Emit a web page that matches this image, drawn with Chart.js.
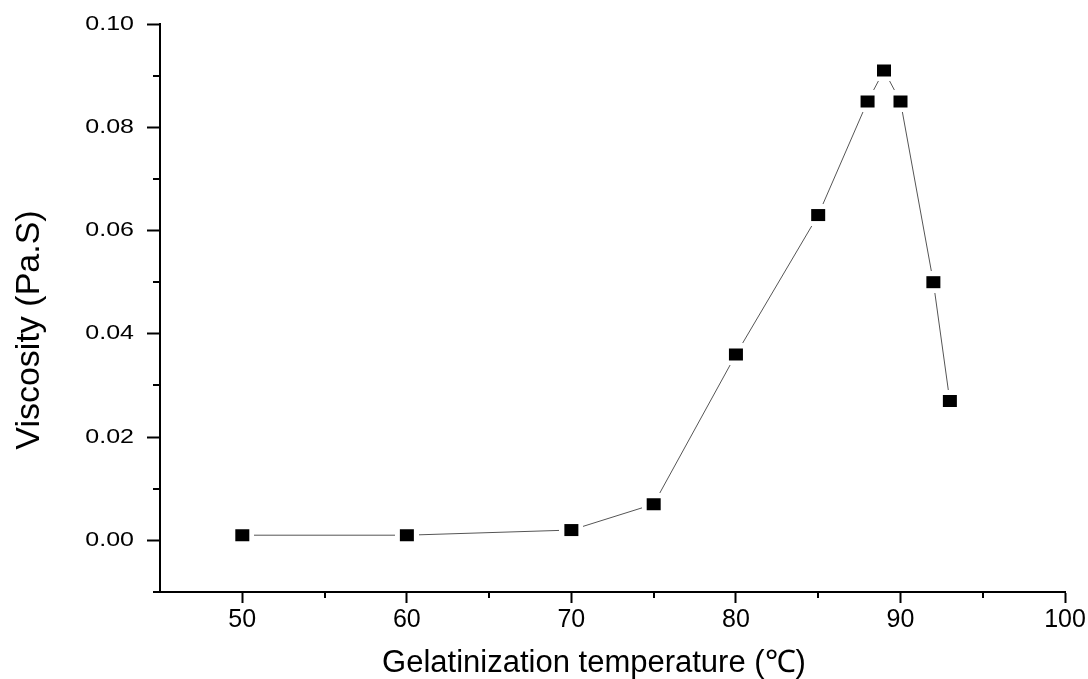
<!DOCTYPE html>
<html>
<head>
<meta charset="utf-8">
<script src="https://cdn.jsdelivr.net/npm/chart.js@4/dist/chart.umd.min.js"></script>
<style>
  html, body { margin: 0; padding: 0; background: #fff; }
  #wrap { width: 1088px; height: 679px; }
</style>
</head>
<body>
<div id="wrap"><canvas id="chart"></canvas></div>
<script>
const temperatures = [50, 60, 70, 75, 80, 85, 88, 89, 90, 92, 93];
const viscosity = [0.001, 0.001, 0.002, 0.007, 0.036, 0.063, 0.085, 0.091, 0.085, 0.050, 0.027];
const xMinorTicks = [55, 65, 75, 85, 95];
const yMinorTicks = [-0.01, 0.01, 0.03, 0.05, 0.07, 0.09];
const xTitle = 'Gelatinization temperature (\u2103)';
const yTitle = 'Viscosity (Pa.S)';

// square marker with a white halo so the line stops short of it
function makeMarker() {
    const c = document.createElement('canvas');
    c.width = 24;
    c.height = 22;
    const ctx = c.getContext('2d');
    ctx.fillStyle = '#fff';
    ctx.fillRect(0, 0, 24, 22);
    ctx.fillStyle = '#000';
    ctx.fillRect(5, 5, 14, 12);
    return c;
}

const axisExtras = {
    id: 'axisExtras',
    afterDraw(chart) {
        const ctx = chart.ctx;
        const x = chart.scales.x;
        const y = chart.scales.y;
        ctx.save();
        ctx.strokeStyle = '#000';
        ctx.lineWidth = 2;
        ctx.beginPath();
        xMinorTicks.forEach(v => {
            const px = Math.round(x.getPixelForValue(v));
            ctx.moveTo(px, x.top);
            ctx.lineTo(px, x.top + 6);
        });
        yMinorTicks.forEach(v => {
            const py = Math.round(y.getPixelForValue(v));
            ctx.moveTo(y.right, py);
            ctx.lineTo(y.right - 7, py);
        });
        ctx.stroke();

        // y tick labels: the original's are drawn wide, so stretch them sideways
        ctx.fillStyle = '#000';
        ctx.font = '20px "Liberation Sans"';
        ctx.textAlign = 'right';
        ctx.textBaseline = 'middle';
        y.ticks.forEach(t => {
            const py = y.getPixelForValue(t.value);
            ctx.save();
            ctx.translate(134, py);
            ctx.scale(1.25, 1);
            ctx.fillText(t.value.toFixed(2), 0, 0);
            ctx.restore();
        });

        // axis titles, placed where the original has them
        ctx.textAlign = 'center';
        ctx.font = '31px "Liberation Sans"';
        ctx.textBaseline = 'alphabetic';
        ctx.fillText(xTitle, 594, 672);
        ctx.save();
        ctx.translate(30, 330);
        ctx.rotate(-Math.PI / 2);
        ctx.font = '34px "Liberation Sans"';
        ctx.textBaseline = 'middle';
        ctx.fillText(yTitle, 0, 0);
        ctx.restore();
        ctx.restore();
    }
};

new Chart(document.getElementById('chart'), {
    type: 'line',
    data: {
        datasets: [{
            data: temperatures.map((t, i) => ({ x: t, y: viscosity[i] })),
            borderColor: '#555',
            borderWidth: 1,
            pointStyle: makeMarker(),
            pointRadius: 8,
            tension: 0
        }]
    },
    options: {
        responsive: true,
        maintainAspectRatio: false,
        animation: false,
        layout: { padding: { top: 24, right: 23, left: 0, bottom: 0 } },
        plugins: { legend: { display: false }, tooltip: { enabled: false } },
        scales: {
            x: {
                type: 'linear',
                min: 45,
                max: 100,
                afterFit: s => { s.height = 87; },
                ticks: {
                    stepSize: 10,
                    includeBounds: false,
                    color: '#000',
                    padding: 2,
                    font: { family: 'Liberation Sans', size: 25 }
                },
                grid: { drawOnChartArea: false, tickLength: 11, tickWidth: 2, tickColor: '#000' },
                border: { color: '#000', width: 2 }
            },
            y: {
                type: 'linear',
                min: -0.01,
                max: 0.10,
                afterFit: s => { s.width = 160; },
                ticks: {
                    stepSize: 0.02,
                    includeBounds: false,
                    display: false
                },
                grid: { drawOnChartArea: false, tickLength: 13, tickWidth: 2, tickColor: '#000' },
                border: { color: '#000', width: 2 }
            }
        }
    },
    plugins: [axisExtras]
});
</script>
</body>
</html>
